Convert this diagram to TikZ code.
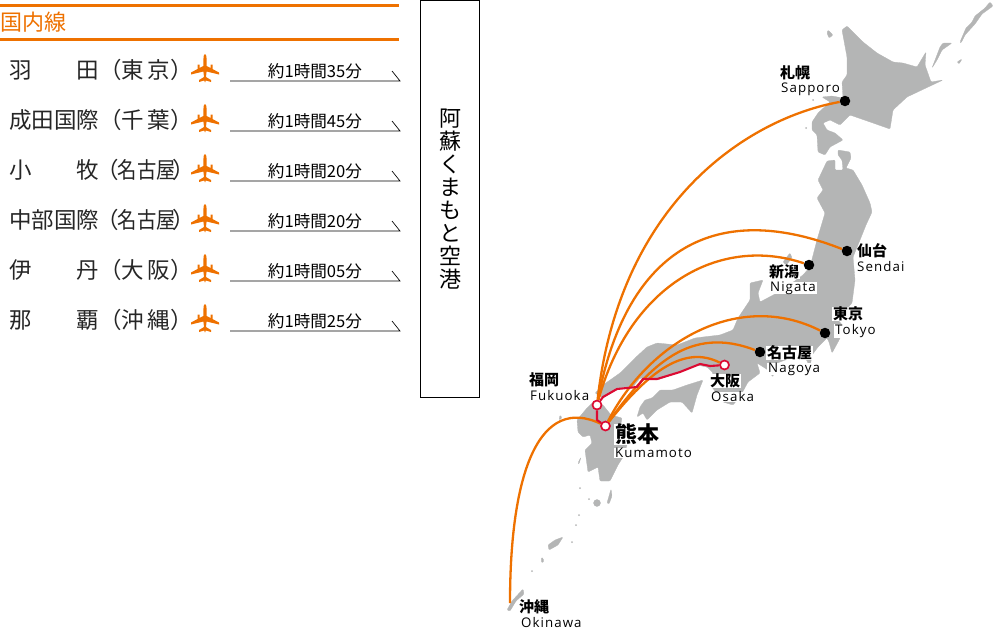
\documentclass[tikz,border=0pt]{standalone}
\usepackage{fontspec}
\setmainfont{Noto Sans CJK JP}
\newfontfamily\latinfont[LetterSpace=8]{Open Sans}
\usetikzlibrary{positioning}
\definecolor{routeorange}{HTML}{EE7100}
\definecolor{routered}{HTML}{DC0A32}
\definecolor{landgrey}{HTML}{B4B5B5}
\newcommand{\narrowed}[1]{\scalebox{0.86}[1]{#1}}
\tikzset{land/.style = {fill=landgrey, draw=landgrey, line width=0.3pt, line join=round, rounded corners=1pt}}
\tikzset{route/.style = {draw=routeorange, line width=2.3pt}}
\tikzset{railway/.style = {draw=routered, line width=2.1pt, line join=round}}
\tikzset{blackdot/.style = {circle, fill=black, inner sep=0pt, minimum size=10.5pt}}
\tikzset{opendot/.style = {circle, fill=white, draw=routered, line width=1.7pt, inner sep=0pt, minimum size=9pt}}
\tikzset{jname/.style = {anchor=west, inner sep=0pt, font=\fontsize{15}{15}\selectfont\bfseries}}
\tikzset{ename/.style = {anchor=west, inner sep=0pt, font=\fontsize{13.3}{13.3}\selectfont\latinfont}}
\tikzset{onland/.style = {fill=white, inner xsep=1pt, xshift=-1pt}}
\tikzset{rowlabel/.style = {anchor=west, inner sep=0pt, font=\fontsize{22.5}{22.5}\selectfont, text=black!85}}
\tikzset{rowtime/.style = {inner sep=0pt, font=\fontsize{16.6}{16.6}\selectfont}}
\tikzset{plane/.pic = {
  \fill [routeorange] (0,-15) .. controls (1,-15) and (1.5,-13) .. (1.5,-11) -- (1.6,-3)
    -- (5.5,-1) -- (5.5,-4.5) -- (7.5,-4.5) -- (7.5,0) -- (14,3.5) -- (14,5.5) -- (1.6,2.5) -- (1,8)
    -- (6,11) -- (6,13) -- (0.8,11.5) -- (0,13.5) -- (-0.8,11.5) -- (-6,13) -- (-6,11) -- (-1,8)
    -- (-1.6,2.5) -- (-14,5.5) -- (-14,3.5) -- (-7.5,0) -- (-7.5,-4.5) -- (-5.5,-4.5) -- (-5.5,-1)
    -- (-1.6,-3) -- (-1.5,-11) .. controls (-1.5,-13) and (-1,-15) .. (0,-15) -- cycle;
}}

\begin{document}
\begin{tikzpicture}[x=1pt, y=-1pt]
  \useasboundingbox (0, 0) rectangle (1000, 630);

  % header
  \draw [routeorange, line width=3pt] (0, 5.5) -- (399, 5.5);
  \draw [routeorange, line width=3pt] (0, 39.5) -- (399, 39.5);
  \node (title) [anchor=west, inner sep=0pt, text=routeorange, font=\fontsize{22}{22}\selectfont] at (0.5, 22) {国内線};

  % rows
  \foreach \y/\place/\duration in {
      70/{羽\hspace{45pt}田（東\hspace{3pt}京\hspace{1pt}）}/約1時間35分,
      120/{成田国際（千\hspace{3pt}葉\hspace{1pt}）}/約1時間45分,
      170/{小\hspace{45pt}牧\hspace{-3pt}（\hspace{-1pt}\narrowed{名古屋}\hspace{-3pt}）}/約1時間20分,
      220/{中部国際\hspace{-3pt}（\hspace{-1pt}\narrowed{名古屋}\hspace{-3pt}）}/約1時間20分,
      270/{伊\hspace{45pt}丹（大\hspace{3pt}阪\hspace{1pt}）}/約1時間05分,
      320/{那\hspace{45pt}覇（沖\hspace{3pt}縄\hspace{1pt}）}/約1時間25分} {
    \node (place\y) [rowlabel] at (9, \y) {\place};
    \pic at (205, \y-1) {plane};
    \node (time\y) [rowtime] at (315, \y+1) {\duration};
    \draw [line width=0.7pt] (230, \y+11) -- (400, \y+11) -- (392, \y+1);
  }

  % airport box
  \node (kumamotoair) [draw, line width=0.6pt, minimum width=59pt, minimum height=397pt, inner sep=0pt,
    align=center, font=\fontsize{22}{23}\selectfont] at (450, 199)
    {阿\\蘇\\く\\ま\\も\\と\\空\\港};

  % land
  \fill [land] (842,30) -- (847,26) -- (863,42) -- (877,53) -- (893,62) -- (903,63) -- (917,67) -- (926,52)
    -- (925,65) -- (931,82) -- (943,80) -- (926,88) -- (907,97) -- (893,110) -- (890,129) -- (873,123)
    -- (850,115) -- (840,125) -- (830,120) -- (823,123) -- (827,130) -- (835,133) -- (843,140) -- (830,147)
    -- (825,155) -- (818,152) -- (817,135) -- (812,130) -- (812,122) -- (818,113) -- (830,102) -- (822,97)
    -- (832,96) -- (843,98) -- (842,82) -- (847,75) -- (847,57) -- cycle;
  \fill [land] (827,161) -- (835,160) -- (835,170) -- (843,170) -- (842,160) -- (838,155) -- (838,150)
    -- (850,152) -- (851,158) -- (846,168)
    -- (853,170) -- (862,185) -- (870,203) -- (872,212) -- (866,225) -- (860,240) -- (853,257) -- (855,280)
    -- (852,303) -- (843,313) -- (836,318) -- (845,328) -- (838,342) -- (832,353) -- (829,342) -- (827,338)
    -- (818,347) -- (812,355) -- (810,367) -- (805,357) -- (785,360) -- (775,364) -- (773,377)
    -- (768,370) -- (757,363) -- (760,373) -- (748,382) -- (741,395) -- (733,405) -- (723,402) -- (712,387)
    -- (713,373) -- (707,367) -- (697,365) -- (680,372) -- (657,380) -- (640,378) -- (633,387) -- (617,388)
    -- (610,393) -- (603,398) -- (595,393) -- (603,385) -- (620,373) -- (635,358) -- (647,347) -- (657,343)
    -- (677,345) -- (695,338) -- (703,337) -- (720,335) -- (733,330) -- (738,318) -- (750,300) -- (750,283)
    -- (763,280) -- (758,293) -- (760,302) -- (777,293) -- (792,283) -- (803,275) -- (810,267) -- (817,240)
    -- (825,213) -- (817,198) -- (823,190) -- (818,180) -- cycle;
  \fill [land] (652,398) -- (660,390) -- (673,390) -- (687,385) -- (703,380) -- (697,395) -- (692,413)
    -- (682,402) -- (670,402) -- (657,410) -- (647,420) -- (643,413) -- (637,417) -- (640,407) -- (645,400) -- cycle;
  \fill [land] (577,420) -- (587,408) -- (593,402) -- (603,405) -- (611,415) -- (622,418) -- (620,428)
    -- (630,432) -- (627,445) -- (623,457) -- (618,465) -- (610,481) -- (600,481) -- (598,467) -- (588,472)
    -- (585,450) -- (592,443) -- (590,435) -- (583,437) -- (578,432) -- cycle;

  % islands
  \fill [land] (790,253) -- (792,258) -- (786,265) -- (783,262) -- cycle;
  \fill [land] (548,545) -- (555,540) -- (563,537) -- (558,545) -- (549,550) -- cycle;
  \fill [land] (607,503) -- (611,489) -- (612,496) -- (609,504) -- cycle;
  \fill [land] (597,503) circle (3.5);
  \fill [land] (542,557) -- (544,561) -- (542,563) -- (541,560) -- cycle;
  \fill [land] (507,610) -- (512,601) -- (523,589) -- (524,594) -- (516,601) -- (510,611) -- cycle;
  \fill [land] (828,30) -- (833,35) -- (829,38) -- (827,33) -- cycle;
  \fill [land] (960,42) -- (966,28) -- (972,22) -- (975,16) -- (985,8) -- (990,2) -- (993,6) -- (982,14)
    -- (975,24) -- (965,35) -- (961,43) -- cycle;
  \fill [land] (932,68) -- (940,47) -- (943,43) -- (952,43) -- (942,50) -- (937,60) -- cycle;
  \fill [land] (957,62) -- (962,59) -- (959,64) -- cycle;
  \fill [land] (560,415) -- (562,418) -- (559,420) -- cycle;
  \fill [land] (578,463) -- (581,457) -- (579,464) -- cycle;
  \foreach \ix/\iy in {580/488, 589/499, 579/515, 576/525, 572/542, 532/571, 806/128, 813/100, 820/140}
    \fill [landgrey] (\ix, \iy) circle (1);

  % airports
  \node (sapporo) [blackdot] at (845, 101) {};
  \node (sendai) [blackdot] at (847, 251) {};
  \node (nigata) [blackdot] at (809, 265) {};
  \node (tokyo) [blackdot] at (825, 333) {};
  \node (nagoya) [blackdot] at (760, 352) {};
  \coordinate (okinawa) at (510, 603);
  \node (osaka) [opendot] at (724.5, 365) {};
  \node (fukuoka) [opendot] at (597, 405) {};
  \node (kumamoto) [opendot] at (605.5, 426) {};

  % routes
  \draw [route] (fukuoka) .. controls (620, 200) and (750, 118) .. (sapporo);
  \draw [route] (fukuoka) .. controls (625, 255) and (710, 197) .. (sendai);
  \draw [route] (fukuoka) .. controls (630, 285) and (720, 235) .. (nigata);
  \draw [route] (kumamoto) .. controls (650, 340) and (740, 290) .. (tokyo);
  \draw [route] (kumamoto) .. controls (650, 365) and (690, 325) .. (nagoya);
  \draw [route] (kumamoto) .. controls (650, 370) and (685, 345) .. (osaka);
  \draw [route] (okinawa) .. controls (510, 470) and (540, 395) .. (kumamoto);

  % rail
  \draw [railway] (osaka) -- (710, 366) -- (700, 364) -- (680, 372) -- (657, 379) -- (643, 379) -- (637, 387)
    -- (617, 389) -- (610, 393) -- (603, 397) -- (fukuoka);
  \draw [railway] (fukuoka) -- (597, 420) -- (kumamoto);

  % labels
  \node (sapporoj) [jname] at (780, 73) {札幌};
  \node (sapporoe) [ename, onland] at (781, 89) {Sapporo};
  \node (sendaij) [jname] at (857, 251) {仙台};
  \node (sendaie) [ename] at (857, 267) {Sendai};
  \node (nigataj) [jname, onland] at (769, 272) {新潟};
  \node (nigatae) [ename, onland] at (770, 288) {Nigata};
  \node (tokyoj) [jname, onland] at (833, 314) {東京};
  \node (tokyoe) [ename, onland] at (835, 331) {Tokyo};
  \node (nagoyaj) [jname, onland] at (767, 353) {名古屋};
  \node (nagoyae) [ename, onland] at (768, 369) {Nagoya};
  \node (osakaj) [jname, onland] at (710, 381) {大阪};
  \node (osakae) [ename, onland] at (711, 397) {Osaka};
  \node (fukuokaj) [jname] at (529, 380) {福岡};
  \node (fukuokae) [ename] at (530, 396) {Fukuoka};
  \node (kumamotoj) [jname, onland, font=\fontsize{22}{22}\selectfont\bfseries] at (615, 434) {熊本};
  \node (kumamotoe) [ename, onland] at (615, 453) {Kumamoto};
  \node (okinawaj) [jname] at (519, 607) {沖縄};
  \node (okinawae) [ename] at (521, 622) {Okinawa};
\end{tikzpicture}
\end{document}
